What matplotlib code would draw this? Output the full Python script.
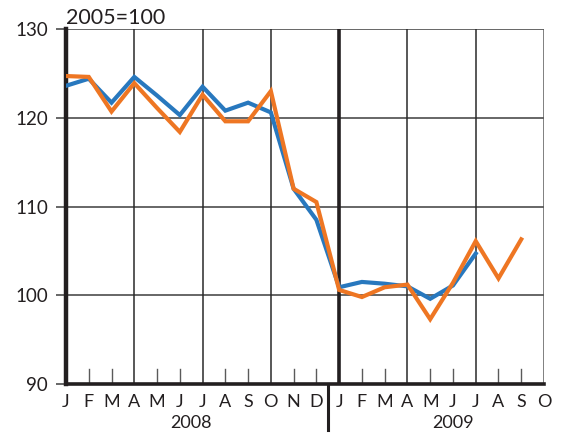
import matplotlib
matplotlib.use("Agg")
import matplotlib.pyplot as plt
from matplotlib.lines import Line2D

plt.rcParams["font.family"] = ["Lato", "DejaVu Sans"]

# Donnees (indice 2005=100)
mois = ["J", "F", "M", "A", "M", "J", "J", "A", "S", "O", "N", "D",
        "J", "F", "M", "A", "M", "J", "J", "A", "S", "O"]
annees = ["2008", "2009"]
serie_bleue = [123.6, 124.4, 121.7, 124.6, 122.5, 120.3, 123.5, 120.8, 121.7, 120.6,
               112.0, 108.5, 100.9, 101.5, 101.3, 101.0, 99.6, 101.1, 104.7]
serie_orange = [124.7, 124.6, 120.7, 123.9, 121.1, 118.4, 122.6, 119.6, 119.6, 123.0,
                112.0, 110.5, 100.6, 99.8, 100.9, 101.2, 97.3, 101.4, 106.1, 101.9, 106.3]

BLEU = "#2878be"
ORANGE = "#ee7623"
GRIS = "#5a5a5a"
NOIR = "#231f20"

fig = plt.figure(figsize=(5.64, 4.34), dpi=100)
ax = fig.add_axes([66 / 564, 1 - 384 / 434, (544 - 66) / 564, (384 - 29) / 434])

n = len(mois)
ax.set_xlim(0, n - 1)
ax.set_ylim(90, 130)

# grille horizontale
for y in [100, 110, 120, 130]:
    ax.axhline(y, color=GRIS, linewidth=1.3, zorder=1)
# grille verticale trimestrielle
for i in range(3, n, 3):
    lw = 2.6 if i == 12 else 1.1
    col = NOIR if i == 12 else "#2a2a2a"
    if i == n - 1:
        lw, col = 1.8, GRIS
    ax.axvline(i, color=col, linewidth=lw, zorder=1)

# petites graduations mensuelles vers l'interieur
for i in range(n):
    if i % 3 != 0:
        ax.plot([i, i], [90, 91.7], color=GRIS, linewidth=1.0, zorder=1)

ax.plot(range(len(serie_bleue)), serie_bleue, color=BLEU, linewidth=3.0,
        solid_joinstyle="miter", zorder=3)
ax.plot(range(len(serie_orange)), serie_orange, color=ORANGE, linewidth=3.0,
        solid_joinstyle="miter", zorder=4)

for side in ["top", "right"]:
    ax.spines[side].set_visible(False)
ax.spines["left"].set_linewidth(3.2)
ax.spines["left"].set_color(NOIR)
ax.spines["bottom"].set_linewidth(2.6)
ax.spines["bottom"].set_color(NOIR)

ax.set_yticks([90, 100, 110, 120, 130])
ax.tick_params(axis="y", length=7, width=1.3, color=GRIS, labelsize=13.5,
               pad=6, labelcolor=NOIR)
ax.set_xticks(range(n))
ax.set_xticklabels(mois)
ax.tick_params(axis="x", length=0, labelsize=13, pad=7, labelcolor=NOIR)

# annees et separateur
ax.text(5.5, -0.11, annees[0], transform=ax.get_xaxis_transform(),
        ha="center", va="center", fontsize=13, color=NOIR)
ax.text(17, -0.11, annees[1], transform=ax.get_xaxis_transform(),
        ha="center", va="center", fontsize=13, color=NOIR)
sep = Line2D([11.5, 11.5], [0, -0.13], transform=ax.get_xaxis_transform(),
             color=NOIR, linewidth=2.2, clip_on=False)
ax.add_line(sep)

fig.text(66 / 564, 1 - 18 / 434, "2005=100", ha="left", va="center",
         fontsize=15.5, color=NOIR)

fig.savefig("out.png", dpi=100)
